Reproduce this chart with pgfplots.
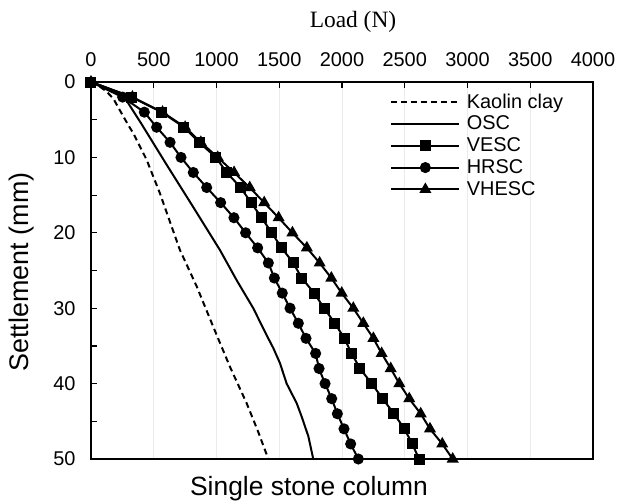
\documentclass[border=0pt]{standalone}
\usepackage{pgfplots}
\pgfplotsset{compat=1.18}
\usepackage{fontspec}
\setmainfont{Liberation Sans}
\newfontfamily\timesfont{Liberation Serif}
\usetikzlibrary{calc}

\pgfplotstableread{
x y
0 0
60 0.5
120 1.2
178 2.2
245 4.2
300 5.8
337 6.8
443 10.3
550 14.8
643 19.2
709 22.3
842 27.1
975 32.5
1108 37.8
1240 42.6
1330 46.3
1413 50
}\kaolin

\pgfplotstableread{
x y
0 0
130 0.8
258 1.8
400 5.5
600 10.9
800 16.2
1028 22.3
1161 26.3
1293 30
1400 33.6
1453 35.3
1506 37.3
1559 40
1639 42.6
1679 44.4
1732 47
1771 50
}\osc

\pgfplotstableread{
x y
0 0
324 2
563 4
741 6
861 8
996 10
1081 12
1193 14
1275 16
1360 18
1440 20
1519 22
1612 24
1679 26
1779 28
1857 30
1944 32
2018 34
2077 36
2143 38
2237 40
2324 42
2414 44
2497 46
2560 48
2614 50
}\vesc

\pgfplotstableread{
x y
0 0
252 2
425 4
523 6
630 8
717 10
815 12
922 14
1033 16
1139 18
1232 20
1328 22
1413 24
1461 26
1524 28
1586 30
1652 32
1713 34
1790 36
1817 38
1865 40
1918 42
1963 44
2016 46
2069 48
2130 50
}\hrsc

\pgfplotstableread{
x y
0 0
330 2
570 4
750 6
875 8
1010 10
1140 12
1265 14
1380 16
1495 18
1605 20
1720 22
1822 24
1915 26
1998 28
2090 30
2170 32
2250 34
2316 36
2388 38
2457 40
2536 42
2627 44
2701 46
2799 48
2882 50
}\vhesc

\begin{document}
\begin{tikzpicture}
\begin{axis}[
  name=ax,
  scale only axis,
  width=502bp, height=377bp,
  xmin=0, xmax=4000, ymin=0, ymax=50,
  y dir=reverse,
  xtick={0,500,...,4000},
  ytick={0,10,...,50},
  minor ytick={5,15,...,45},
  xtick pos=upper, xticklabel pos=upper,
  ytick pos=left,
  tick align=inside,
  major tick length=6bp, minor tick length=6bp,
  tick style={black, line width=1.2bp},
  axis line style={line width=1.8bp},
  xmajorgrids,
  major grid style={black!8, line width=0.8bp},
  scaled x ticks=false,
  /pgf/number format/1000 sep={},
  /pgf/number format/assume math mode=true,
  ticklabel style={font=\fontsize{20}{24}\selectfont},
  xticklabel style={yshift=12bp},
  yticklabel style={xshift=-12bp},
  legend style={at={(0.95,0.979)}, anchor=north east, draw=none, fill=none,
    font=\fontsize{20}{22}\selectfont, row sep=3.5bp, column sep=5bp, nodes={inner sep=1.5bp}},
  legend cell align=left,
  legend image code/.code={\draw[line width=2bp,mark repeat=2,mark phase=2,#1] plot coordinates {(0bp,0bp)(34bp,0bp)(68bp,0bp)};},
]
\addplot[black, line width=2bp, dash pattern=on 6bp off 4bp, no markers] table[x=x,y=y] {\kaolin};
\addlegendentry{Kaolin clay}
\addplot[black, line width=2bp, no markers] table[x=x,y=y] {\osc};
\addlegendentry{OSC}
\addplot[black, line width=2bp, mark=square*, mark size=4.5bp, mark options={solid}] table[x=x,y=y] {\vesc};
\addlegendentry{VESC}
\addplot[black, line width=2bp, mark=*, mark size=4.5bp, mark options={solid}] table[x=x,y=y] {\hrsc};
\addlegendentry{HRSC}
\addplot[black, line width=2bp, mark=triangle*, mark size=5bp, mark options={solid}] table[x=x,y=y] {\vhesc};
\addlegendentry{VHESC}
\end{axis}
\node[font=\timesfont\fontsize{23.5}{26}\selectfont] at ($(ax.north west)+(262bp,60bp)$) {Load (N)};
\node[font=\fontsize{27}{30}\selectfont, rotate=90] at ($(ax.south west)+(-69bp,187bp)$) {Settlement (mm)};
\node[font=\fontsize{26.5}{30}\selectfont] at ($(ax.south west)+(218bp,-30bp)$) {Single stone column};
\pgfresetboundingbox
\path ($(ax.south west)+(-91bp,-42bp)$) rectangle ($(ax.north east)+(25bp,82bp)$);
\end{tikzpicture}
\end{document}
